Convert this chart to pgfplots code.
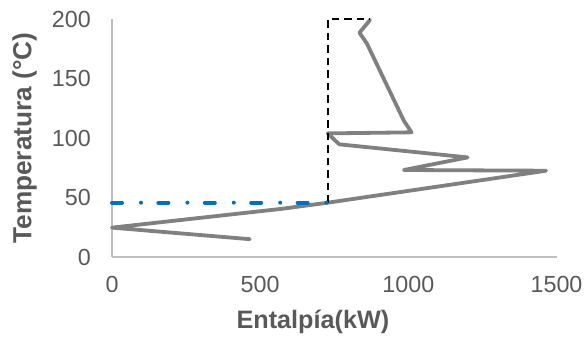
\documentclass[border=0pt]{standalone}
\usepackage{pgfplots}
\pgfplotsset{compat=1.18}
\usepackage{fontspec}
\setmainfont{Liberation Sans}
\definecolor{tickgray}{HTML}{595959}
\definecolor{axgray}{HTML}{BFBFBF}
\definecolor{curvegray}{HTML}{808080}
\definecolor{xlblue}{HTML}{0070C0}
\begin{document}
\begin{tikzpicture}
\begin{axis}[
  scale only axis,
  width=444.5pt, height=237.7pt,
  xmin=0, xmax=1500, ymin=0, ymax=200,
  xtick={0,500,1000,1500}, ytick={0,50,100,150,200},
  axis x line*=bottom, axis y line*=left,
  axis line style={draw=axgray, line width=1.3pt, -},
  major tick length=0pt,
  tick style={draw=none},
  /pgf/number format/assume math mode=true,
  /pgf/number format/1000 sep={},
  ticklabel style={font=\fontsize{23.3}{27}\selectfont, text=tickgray, inner sep=0pt},
  yticklabel style={anchor=east, xshift=-21pt},
  xticklabel style={anchor=north, yshift=-19.5pt},
  xlabel={Entalpía(kW)},
  ylabel={Temperatura (°C)},
  xlabel style={font=\bfseries\fontsize{25.2}{30}\selectfont, text=tickgray, at={(rel axis cs:0.452,0)}, anchor=north, yshift=-53pt, inner sep=0pt},
  ylabel style={font=\bfseries\fontsize{26.2}{30}\selectfont, text=tickgray, at={(rel axis cs:0,0.5)}, anchor=south, yshift=75pt, inner sep=0pt},
  clip=false,
]
\addplot[curvegray, line width=3.8pt, line join=round, line cap=round] coordinates {
  (465,15) (0,24.7) (575,40.6) (728,45.7) (1465,72.6) (985,73.2) (1200,83.8)
  (767,94.8) (728,104) (1011,104.9) (985,114.6) (860,179.7) (835,188.7) (871,199.5)
};
\addplot[black, line width=2pt, dash pattern=on 7.5pt off 5pt] coordinates {
  (728,45.7) (728,200) (871,200)
};
\addplot[xlblue, line width=4pt, line cap=round, dash pattern=on 10pt off 19pt on 0pt off 17.4pt] coordinates {
  (0,45.7) (728,45.7)
};
\end{axis}
\pgfresetboundingbox
\useasboundingbox (-112pt,-82pt) rectangle (473pt,257pt);
\end{tikzpicture}
\end{document}
